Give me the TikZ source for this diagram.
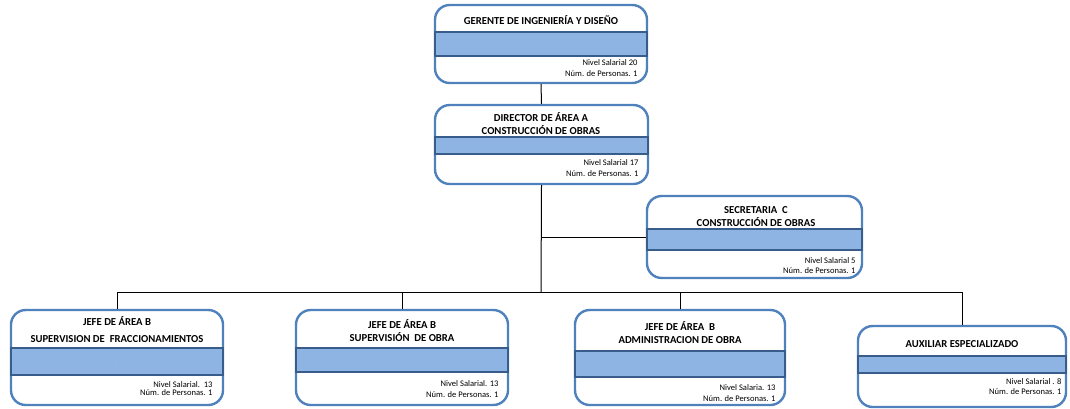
\documentclass[tikz,border=0pt]{standalone}
\usepackage{fontspec}
\setmainfont{Carlito}
\definecolor{bordeAzul}{RGB}{79,129,189}
\definecolor{barraAzul}{RGB}{141,180,227}
\definecolor{barraBorde}{RGB}{56,93,138}
\tikzset{every picture/.style={line width=0.75pt}}
\tikzset{
  cargo/.style={draw=bordeAzul, line width=1.8pt, rounded corners=11pt, fill=white, inner sep=0pt},
  barra/.style={draw=barraBorde, line width=1.5pt, fill=barraAzul},
  titulo/.style={inner sep=0.75pt, font=\bfseries\fontsize{8}{9.5}\selectfont, align=center},
  datos/.style={anchor=east, inner sep=0.75pt, font=\fontsize{6.4}{6.4}\selectfont},
  enlace/.style={draw=black, line width=0.75pt}
}

\begin{document}
\begin{tikzpicture}[x=0.75pt,y=0.75pt,yscale=-1,xscale=1]
\useasboundingbox (0,0) rectangle (1070,408);

%Rounded Rect: gerente
\node [cargo, minimum width=159pt, minimum height=58.5pt] (gerente) at (541,44) {};
\draw [barra] (435,32) rectangle (647,56);
%Rounded Rect: director
\node [cargo, minimum width=159.75pt, minimum height=59.25pt] (director) at (541.5,144.5) {};
\draw [barra] (435,137) rectangle (648,154);
%Rounded Rect: secretaria
\node [cargo, minimum width=161.25pt, minimum height=61.5pt] (secretaria) at (754.5,237) {};
\draw [barra] (647,229) rectangle (862,250);
%Rounded Rect: jefe fraccionamientos
\node [cargo, minimum width=159pt, minimum height=71.25pt] (jefeFracc) at (117,357.5) {};
\draw [barra] (11,348) rectangle (223,375);
%Rounded Rect: jefe supervision obra
\node [cargo, minimum width=159pt, minimum height=71.25pt] (jefeSupObra) at (402,357.5) {};
\draw [barra] (296,348) rectangle (508,372);
%Rounded Rect: jefe administracion
\node [cargo, minimum width=157.5pt, minimum height=71.25pt] (jefeAdmin) at (680,357.5) {};
\draw [barra] (575,351) rectangle (785,377);
%Rounded Rect: auxiliar
\node [cargo, minimum width=156pt, minimum height=60.75pt] (auxiliar) at (962,366.5) {};
\draw [barra] (858,356) rectangle (1066,373);

% Conectores
\coordinate (bus) at (541,292);
\draw [enlace] (gerente.south) -- (director.north);
\draw [enlace] (director.south) -- (bus);
\draw [enlace] (director.south |- secretaria.west) -- (secretaria.west);
\draw [enlace] (jefeFracc.north) -- (jefeFracc.north |- bus) -- (auxiliar.north |- bus) -- (auxiliar.north);
\draw [enlace] (jefeSupObra.north) -- (jefeSupObra.north |- bus);
\draw [enlace] (jefeAdmin.north) -- (jefeAdmin.north |- bus);

% Text Node
\node [titulo] (tGerente) at (541,20) {GERENTE DE INGENIERÍA Y DISEÑO};
\node [datos] (nGerente) at (639,63) {Nivel Salarial 20};
\node [datos] (pGerente) at (639,74) {Núm. de Personas. 1};
% Text Node
\node [titulo] (tDirector) at (541,123.5) {DIRECTOR DE ÁREA A\\CONSTRUCCIÓN DE OBRAS};
\node [datos] (nDirector) at (640,163) {Nivel Salarial 17};
\node [datos] (pDirector) at (640,174) {Núm. de Personas. 1};
% Text Node
\node [titulo] (tSecretaria) at (756,216.5) {SECRETARIA\ \ C\\CONSTRUCCIÓN DE OBRAS};
\node [datos] (nSecretaria) at (857,261) {Nivel Salarial 5};
\node [datos] (pSecretaria) at (857,271) {Núm. de Personas. 1};
% Text Node
\node [titulo, font=\bfseries\fontsize{8}{12.5}\selectfont] (tJefeFracc) at (117,329.5) {JEFE DE ÁREA B\\SUPERVISION DE\ \ FRACCIONAMIENTOS};
\node [inner sep=0pt, font=\fontsize{4}{4}\selectfont, text=white!85!black] (puntoFracc) at (117,361) {.};
\node [datos] (nJefeFracc) at (214,385) {Nivel Salarial.\ \ 13};
\node [datos] (pJefeFracc) at (214,392.5) {Núm. de Personas. 1};
% Text Node
\node [titulo] (tJefeSupObra) at (402,330.5) {JEFE DE ÁREA B\\SUPERVISIÓN\ \ DE OBRA};
\node [datos] (nJefeSupObra) at (500,384) {Nivel Salarial. 13};
\node [datos] (pJefeSupObra) at (500,395) {Núm. de Personas. 1};
% Text Node
\node [titulo] (tJefeAdmin) at (680,332.5) {JEFE DE ÁREA\ \ B\\ADMINISTRACION DE OBRA};
\node [datos] (nJefeAdmin) at (777,388) {Nivel Salaria. 13};
\node [datos] (pJefeAdmin) at (777,399) {Núm. de Personas. 1};
% Text Node
\node [titulo] (tAuxiliar) at (962,344) {AUXILIAR ESPECIALIZADO};
\node [datos] (nAuxiliar) at (1063,382) {Nivel Salarial . 8};
\node [datos] (pAuxiliar) at (1063,392) {Núm. de Personas. 1};
\end{tikzpicture}
\end{document}
